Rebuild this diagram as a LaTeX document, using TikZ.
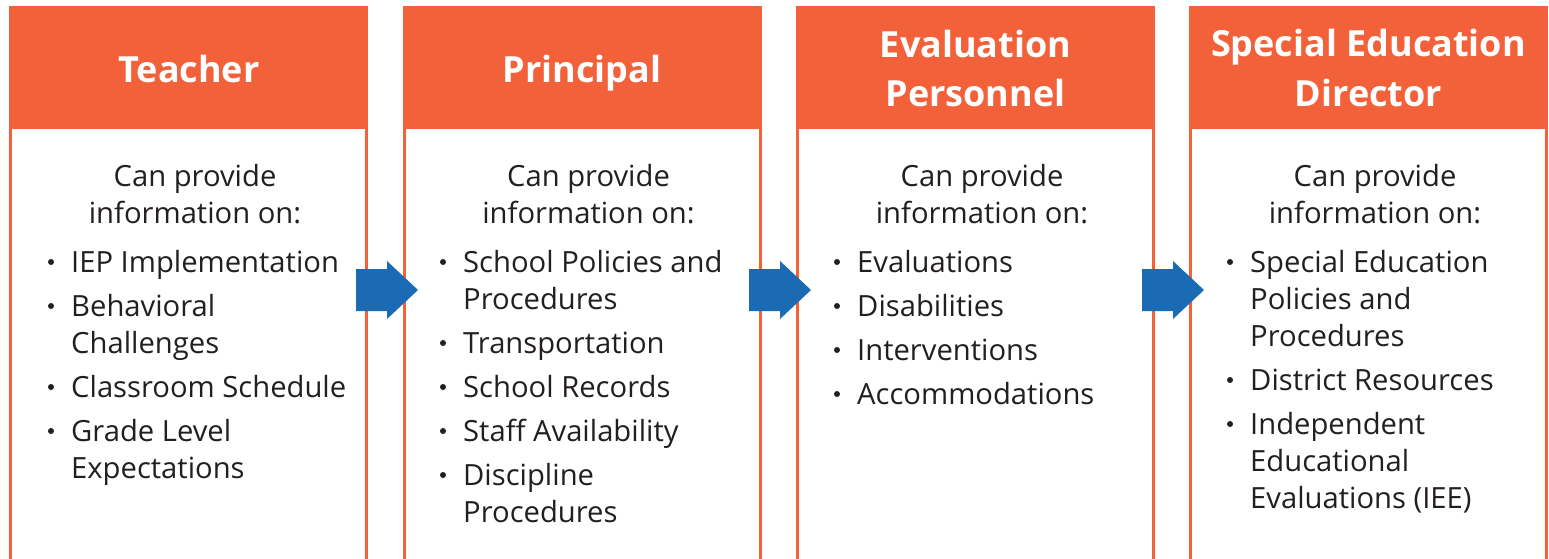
\documentclass[tikz,border=0pt]{standalone}
\usepackage{fontspec}
\setmainfont{Open Sans}
\definecolor{org}{HTML}{F26139}
\definecolor{blu}{HTML}{1A6BB4}
\definecolor{txt}{HTML}{231F20}
\newcommand\itemline[5]{%
  \node[bt] (#1) at (#2+62,#3) {#5};
  \ifnum#4=1 \node[dot] (#1d) at (#2+42,#3-10) {};\fi}
\begin{document}
\begin{tikzpicture}[x=1pt,y=-1pt,
  hdr/.style={fill=org, draw=none, minimum width=359pt, minimum height=122pt, anchor=north west, inner sep=0},
  bodybox/.style={draw=org, line width=3pt, fill=white},
  ttl/.style={text=white, font=\fontsize{36}{43}\selectfont\bfseries, anchor=base, inner sep=0},
  bt/.style={text=txt, font=\fontsize{29.2}{35}\selectfont, anchor=base west, inner sep=0},
  it/.style={text=txt, font=\fontsize{29.2}{35}\selectfont, anchor=base, inner sep=0},
  dot/.style={circle, fill=txt, inner sep=0, minimum size=6pt},
  arr/.style={fill=blu}]
\useasboundingbox (0,0) rectangle (1549,558);
\clip (0,0) rectangle (1549,558);
% columns
\foreach \L/\n in {9/1,402.5/2,796/3,1189/4}{
  \draw[bodybox] (\L+1.5,127) rectangle (\L+357.5,600);
  \node[hdr] (h\n) at (\L,6) {};
  \node[it] (c\n a) at (\L+186,186) {Can provide};
  \node[it] (c\n b) at (\L+186,223) {information on:};
}
% titles
\node[ttl] (t1) at (189,82) {Teacher};
\node[ttl] (t2) at (582,82) {Principal};
\node[ttl] (t3a) at (975.5,57) {Evaluation};
\node[ttl] (t3b) at (975.5,106) {Personnel};
\node[ttl] (t4a) at (1368.5,56) {Special Education};
\node[ttl] (t4b) at (1368.5,106) {Director};
% column 1
\itemline{a1}{9}{272}{1}{IEP Implementation}
\itemline{a2}{9}{316}{1}{Behavioral}
\itemline{a2b}{9}{353}{0}{Challenges}
\itemline{a3}{9}{397}{1}{Classroom Schedule}
\itemline{a4}{9}{441}{1}{Grade Level}
\itemline{a4b}{9}{478}{0}{Expectations}
% column 2
\itemline{b1}{401}{272}{1}{School Policies and}
\itemline{b1b}{401}{309}{0}{Procedures}
\itemline{b2}{401}{353}{1}{Transportation}
\itemline{b3}{401}{397}{1}{School Records}
\itemline{b4}{401}{441}{1}{Staff Availability}
\itemline{b5}{401}{485}{1}{Discipline}
\itemline{b5b}{401}{522}{0}{Procedures}
% column 3
\itemline{d1}{795}{272}{1}{Evaluations}
\itemline{d2}{795}{316}{1}{Disabilities}
\itemline{d3}{795}{360}{1}{Interventions}
\itemline{d4}{795}{404}{1}{Accommodations}
% column 4
\itemline{e1}{1188}{272}{1}{Special Education}
\itemline{e1b}{1188}{309}{0}{Policies and}
\itemline{e1c}{1188}{346}{0}{Procedures}
\itemline{e2}{1188}{390}{1}{District Resources}
\itemline{e3}{1188}{434}{1}{Independent}
\itemline{e3b}{1188}{471}{0}{Educational}
\itemline{e3c}{1188}{508}{0}{Evaluations (IEE)}
% arrows
\foreach \x in {356,749,1142}{
  \fill[arr] (\x,269) -- (\x+31,269) -- (\x+31,261) -- (\x+62,290) -- (\x+31,319) -- (\x+31,311) -- (\x,311) -- cycle;
}
\end{tikzpicture}
\end{document}
